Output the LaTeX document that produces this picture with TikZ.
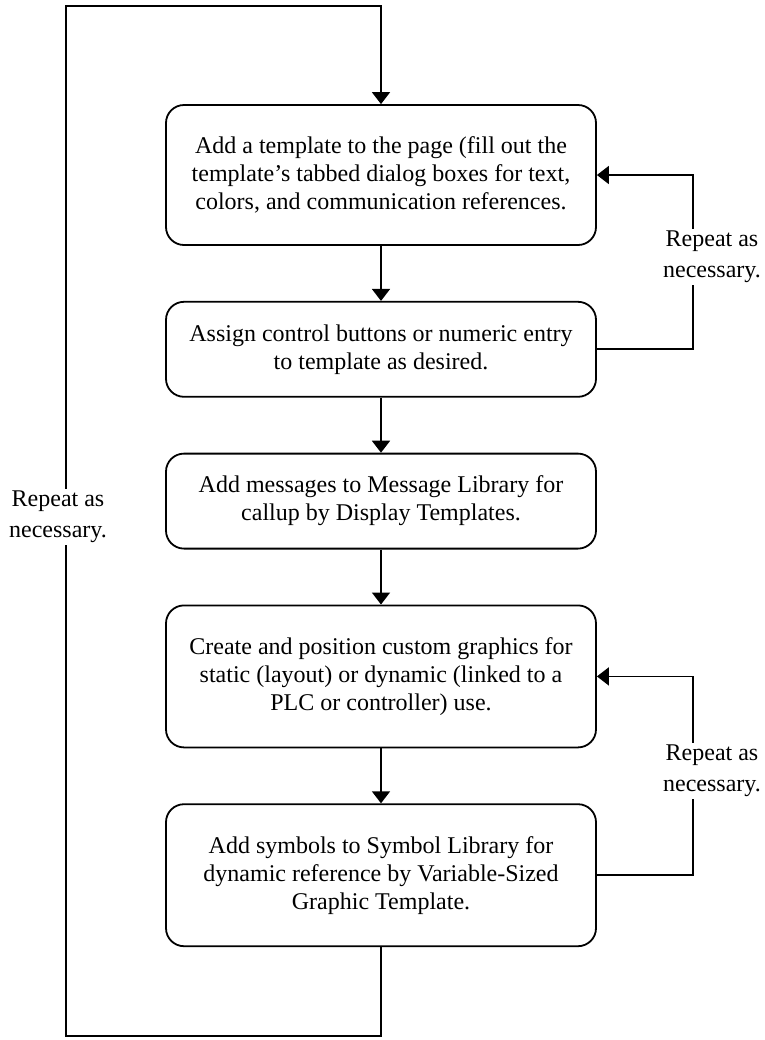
\documentclass[tikz,border=0pt]{standalone}
\usepackage{fontspec}
\setmainfont{Liberation Serif}
\usetikzlibrary{positioning, arrows.meta}
\tikzstyle{process} = [rectangle, rounded corners=9pt, minimum width=215pt, minimum height=47.5pt, text centered, align=center, draw=black, line width=0.9pt, font=\fontsize{12}{14}\selectfont]
\tikzstyle{note} = [fill=white, align=center, inner sep=1pt, font=\fontsize{12}{15.5}\selectfont]
\tikzstyle{arrow} = [line width=0.9pt, -{Triangle[length=6pt, width=9pt]}]

\begin{document}
\begin{tikzpicture}[node distance=27.5pt]
		\useasboundingbox (0,0) rectangle (382.5pt,-520pt);
		
		\node (pro1) [process, minimum height=70pt] at (190.5pt,-87.5pt) {Add a template to the page (fill out the\\template’s tabbed dialog boxes for text,\\colors, and communication references.};
		\node (pro2) [process, below=of pro1] {Assign control buttons or numeric entry\\to template as desired.};
		\node (pro3) [process, below=of pro2] {Add messages to Message Library for\\callup by Display Templates.};
		\node (pro4) [process, below=of pro3, minimum height=71pt] {Create and position custom graphics for\\static (layout) or dynamic (linked to a\\PLC or controller) use.};
		\node (pro5) [process, below=of pro4, minimum height=71pt] {Add symbols to Symbol Library for\\dynamic reference by Variable-Sized\\Graphic Template.};
		
		\coordinate (bl) at (33pt,-518pt);
		\coordinate (tl) at (33pt,-3pt);
		
		\draw [arrow] (pro1) -- (pro2);
		\draw [arrow] (pro2) -- (pro3);
		\draw [arrow] (pro3) -- (pro4);
		\draw [arrow] (pro4) -- (pro5);
		
		% repeat loops
		\draw [arrow] (pro2.east) -- ++(48pt,0) |- (pro1.east);
		\draw [arrow] (pro5.east) -- ++(48pt,0) |- (pro4.east);
		\draw [arrow] (pro5.south) |- (bl) -- (tl) -| (pro1.north);
		
		\node (rep1) [note] at (356pt,-128.5pt) {Repeat as\\necessary.};
		\node (rep2) [note] at (356pt,-385.5pt) {Repeat as\\necessary.};
		\node (rep3) [note] at (29pt,-258.5pt) {Repeat as\\necessary.};
		
		\end{tikzpicture}
\end{document}
